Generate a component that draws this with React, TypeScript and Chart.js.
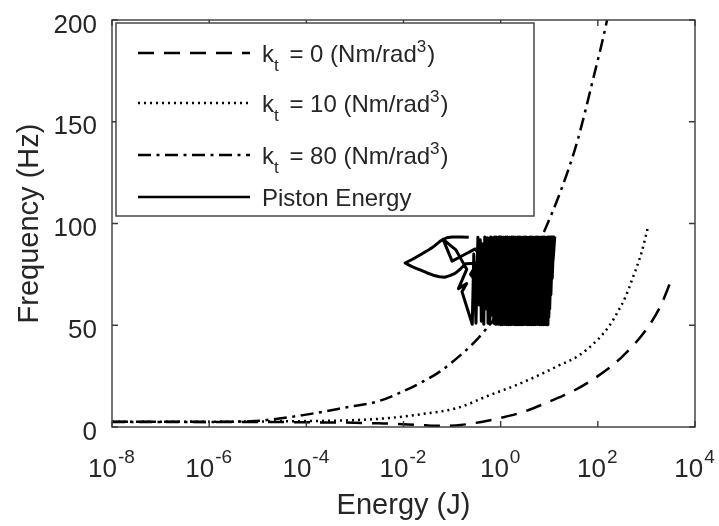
import React, { useEffect, useRef } from "react";
import { Chart, registerables } from "chart.js";

Chart.register(...registerables);

// Natural frequency vs. stored energy for three torsional stiffness values
const energyK0 = [1e-8, 1e-7, 1e-6, 1e-5, 1e-4, 1e-3, 3e-3, 1e-2, 3e-2, 6e-2, 0.15, 0.4, 1, 3, 10, 30, 100, 300, 1000, 2000, 3100];
const freqK0 = [2.6, 2.6, 2.5, 2.5, 2.3, 2.1, 1.8, 1.4, 0.8, 0.6, 1.0, 2.5, 4.5, 7.5, 12.5, 17.5, 25, 34, 48, 60, 71];

const energyK10 = [1e-8, 1e-6, 1e-5, 1e-4, 1e-3, 5e-3, 0.025, 0.126, 0.6, 2.1, 6.3, 15, 40, 100, 170, 250, 380, 500, 800, 1070];
const freqK10 = [2.6, 2.6, 2.7, 2.9, 3.4, 4.4, 6.4, 9.3, 15.7, 20.6, 25.6, 30, 35, 43, 49.5, 56, 64.5, 72, 86, 98];

const energyK80 = [1e-8, 1e-7, 1e-6, 7e-6, 5.4e-5, 1.66e-4, 7.9e-4, 2.8e-3, 7.4e-3, 0.025, 0.056, 0.166, 0.32, 0.52, 1, 2, 4, 8.1, 16.6, 37, 79, 155, 230];
const freqK80 = [2.4, 2.4, 2.5, 2.8, 5.1, 7.0, 10, 12.4, 16.2, 22.3, 27.2, 36.3, 42.8, 48.6, 57, 68, 81, 96.8, 115, 139.6, 170.5, 200, 222];

// Simulated piston trajectory (energy, instantaneous frequency)
const pistonEnergy = [
  0.22, 0.15, 0.105, 0.078, 0.058, 0.041, 0.03, 0.021, 0.015, 0.0108,
  0.015, 0.022, 0.03, 0.041, 0.055, 0.07, 0.09, 0.115, 0.146, 0.19,
  0.32, 0.5, 0.3, 0.1, 0.065, 0.12, 0.2, 0.135, 0.2, 0.16,
  0.26, 0.28, 0.31, 0.34, 0.36, 0.38, 0.4, 0.42, 0.45, 0.47,
  0.5, 0.53, 0.55, 0.58, 0.6, 0.63, 0.66, 0.69, 0.72, 0.75,
  0.78, 0.81, 0.84, 0.87, 0.9, 0.93, 0.96, 0.98, 0.4, 0.6,
  0.3, 0.5, 0.24, 0.7, 0.95,
  1.0, 1.05, 1.1, 1.15, 1.21, 1.27, 1.33, 1.4, 1.47, 1.54,
  1.62, 1.7, 1.78, 1.87, 1.96, 2.06, 2.16, 2.27, 2.38, 2.5,
  2.62, 2.75, 2.89, 3.03, 3.18, 3.34, 3.51, 3.68, 3.86, 4.05,
  4.25, 4.46, 4.68, 4.91, 5.16, 5.41, 5.68, 5.96, 6.26, 6.57,
  6.9, 7.24, 7.6, 7.98, 8.38, 8.8, 9.0, 9.5, 9.4, 10.0,
  9.8, 10.6, 10.2, 11.2, 10.8, 11.8, 11.5, 12.4, 12.0, 13.0,
];
const pistonFreq = [
  93.2, 93.4, 93.4, 93.0, 91.5, 88.5, 86.5, 84.3, 82.3, 80.6,
  78.8, 77.2, 75.8, 74.6, 73.8, 73.6, 74.4, 75.5, 77.5, 80.2,
  80.6, 80.0, 87.5, 81.5, 92.3, 87.0, 77.5, 68.0, 70.5, 66.5,
  50.5, 85.0, 51.0, 93.3, 60.0, 92.0, 52.0, 90.0, 50.5, 93.4,
  58.0, 93.0, 51.0, 92.0, 50.5, 93.4, 55.0, 93.0, 51.0, 93.4,
  50.5, 93.4, 50.5, 93.0, 50.5, 93.4, 50.5, 93.4, 70.0, 93.0,
  62.0, 88.0, 75.0, 60.0, 93.4,
  50.3, 93.4, 50.2, 93.3, 50.4, 93.4, 50.2, 93.4, 50.3, 93.3,
  50.2, 93.4, 50.4, 93.4, 50.2, 93.3, 50.3, 93.4, 50.2, 93.4,
  50.3, 93.3, 50.2, 93.4, 50.4, 93.4, 50.2, 93.3, 50.3, 93.4,
  50.2, 93.4, 50.3, 93.3, 50.2, 93.4, 50.4, 93.4, 50.2, 93.3,
  50.3, 93.4, 50.2, 93.4, 50.3, 93.3, 50.2, 93.4, 50.3, 93.4,
  54.0, 93.4, 58.0, 93.4, 65.0, 93.4, 73.0, 93.4, 82.0, 93.5,
];

const xTickExponents = [-8, -6, -4, -2, 0, 2, 4];
const yTickValues = [0, 50, 100, 150, 200];

// Legend labels split into runs: [text, "sub" | "sup" | undefined]
const legendLabels: [string, string?][][] = [
  [["k"], ["t", "sub"], [" = 0 (Nm/rad"], ["3", "sup"], [")"]],
  [["k"], ["t", "sub"], [" = 10 (Nm/rad"], ["3", "sup"], [")"]],
  [["k"], ["t", "sub"], [" = 80 (Nm/rad"], ["3", "sup"], [")"]],
  [["Piston Energy"]],
];

const FONT = '"Liberation Sans", Arial, Helvetica, sans-serif';
const INK = "#262626";

const pairs = (xs: number[], ys: number[]) => xs.map((x, i) => ({ x, y: ys[i] }));

const axesDecor = {
  id: "axesDecor",
  afterDatasetsDraw(chart: any) {
    const { ctx, chartArea: a, scales } = chart;
    const xs = scales.x;
    const ys = scales.y;
    ctx.save();

    // axes box
    ctx.strokeStyle = "#3a3a3a";
    ctx.lineWidth = 1.4;
    ctx.setLineDash([]);
    ctx.strokeRect(a.left, a.top, a.right - a.left, a.bottom - a.top);

    // inward tick marks on all four sides
    const tl = 6;
    ctx.beginPath();
    xTickExponents.forEach((e) => {
      const px = xs.getPixelForValue(Math.pow(10, e));
      ctx.moveTo(px, a.bottom);
      ctx.lineTo(px, a.bottom - tl);
      ctx.moveTo(px, a.top);
      ctx.lineTo(px, a.top + tl);
    });
    yTickValues.forEach((v) => {
      const py = ys.getPixelForValue(v);
      ctx.moveTo(a.left, py);
      ctx.lineTo(a.left + tl, py);
      ctx.moveTo(a.right, py);
      ctx.lineTo(a.right - tl, py);
    });
    ctx.stroke();

    // tick labels
    ctx.fillStyle = INK;
    ctx.textBaseline = "alphabetic";
    ctx.font = `26px ${FONT}`;
    ctx.textAlign = "right";
    yTickValues.forEach((v) => {
      ctx.fillText(String(v), a.left - 15, ys.getPixelForValue(v) + 12.5);
    });
    ctx.textAlign = "left";
    xTickExponents.forEach((e) => {
      const px = xs.getPixelForValue(Math.pow(10, e));
      const exp = String(e);
      ctx.font = `26px ${FONT}`;
      const wb = ctx.measureText("10").width;
      ctx.font = `19px ${FONT}`;
      const we = ctx.measureText(exp).width;
      const x0 = px - (wb + we) / 2 - 1;
      ctx.font = `26px ${FONT}`;
      ctx.fillText("10", x0, a.bottom + 50);
      ctx.font = `19px ${FONT}`;
      ctx.fillText(exp, x0 + wb + 1, a.bottom + 36);
    });

    // axis titles
    ctx.font = `29px ${FONT}`;
    ctx.textAlign = "center";
    ctx.fillText("Energy (J)", (a.left + a.right) / 2, a.bottom + 87);
    ctx.save();
    ctx.translate(a.left - 74, (a.top + a.bottom) / 2);
    ctx.rotate(-Math.PI / 2);
    ctx.fillText("Frequency (Hz)", 0, 0);
    ctx.restore();

    // legend box
    const lx = a.left + 4;
    const ly = a.top + 3;
    const lw = 418;
    const lh = 193;
    ctx.fillStyle = "#ffffff";
    ctx.fillRect(lx, ly, lw, lh);
    ctx.strokeStyle = "#3a3a3a";
    ctx.lineWidth = 1.4;
    ctx.strokeRect(lx, ly, lw, lh);

    const rowOffsets = [30, 80, 132, 174];
    chart.data.datasets.forEach((ds: any, i: number) => {
      const ry = ly + rowOffsets[i];
      ctx.strokeStyle = ds.borderColor;
      ctx.lineWidth = Math.min(ds.borderWidth, 2.5);
      ctx.lineCap = "butt";
      ctx.setLineDash(ds.borderDash || []);
      ctx.beginPath();
      ctx.moveTo(lx + 22, ry);
      ctx.lineTo(lx + 134, ry);
      ctx.stroke();
      ctx.setLineDash([]);

      let tx = lx + 146;
      const base = ry + 8.5;
      ctx.fillStyle = INK;
      ctx.textAlign = "left";
      legendLabels[i].forEach(([t, kind]) => {
        if (kind === "sub") {
          ctx.font = `17px ${FONT}`;
          ctx.fillText(t, tx, base + 9);
          tx += ctx.measureText(t).width + 4;
        } else if (kind === "sup") {
          ctx.font = `17px ${FONT}`;
          ctx.fillText(t, tx, base - 10);
          tx += ctx.measureText(t).width + 1;
        } else {
          ctx.font = `24px ${FONT}`;
          ctx.fillText(t, tx, base);
          tx += ctx.measureText(t).width;
        }
      });
    });

    ctx.restore();
  },
};

export default function App() {
  const ref = useRef<HTMLCanvasElement>(null);

  useEffect(() => {
    const chart = new Chart(ref.current as HTMLCanvasElement, {
      type: "line",
      data: {
        datasets: [
          {
            label: "kt = 0 (Nm/rad3)",
            data: pairs(energyK0, freqK0),
            borderColor: "#000000",
            borderWidth: 2.5,
            borderDash: [16, 10],
            pointRadius: 0,
            cubicInterpolationMode: "monotone",
            fill: false,
          },
          {
            label: "kt = 10 (Nm/rad3)",
            data: pairs(energyK10, freqK10),
            borderColor: "#000000",
            borderWidth: 2.5,
            borderDash: [2, 4],
            pointRadius: 0,
            cubicInterpolationMode: "monotone",
            fill: false,
          },
          {
            label: "kt = 80 (Nm/rad3)",
            data: pairs(energyK80, freqK80),
            borderColor: "#000000",
            borderWidth: 2.5,
            borderDash: [13, 5.5, 3, 5.5],
            pointRadius: 0,
            cubicInterpolationMode: "monotone",
            fill: false,
          },
          {
            label: "Piston Energy",
            data: pairs(pistonEnergy, pistonFreq),
            borderColor: "#000000",
            borderWidth: 3,
            borderJoinStyle: "round",
            pointRadius: 0,
            // a tiny tension keeps every vertex (no per-pixel column collapsing)
            tension: 0.000001,
            fill: false,
          },
        ],
      } as any,
      options: {
        responsive: false,
        animation: false,
        devicePixelRatio: 1,
        events: [],
        layout: { padding: { left: 112, right: 24, top: 20, bottom: 99 } },
        scales: {
          x: { type: "logarithmic", min: 1e-8, max: 1e4, display: false },
          y: { type: "linear", min: 0, max: 200, display: false },
        },
        plugins: {
          legend: { display: false },
          tooltip: { enabled: false },
        },
      } as any,
      plugins: [axesDecor],
    });
    return () => chart.destroy();
  }, []);

  return (
    <div style={{ position: "fixed", left: 0, top: 0, width: 719, height: 526, background: "#ffffff" }}>
      <canvas ref={ref} width={719} height={526} style={{ display: "block" }} />
    </div>
  );
}
